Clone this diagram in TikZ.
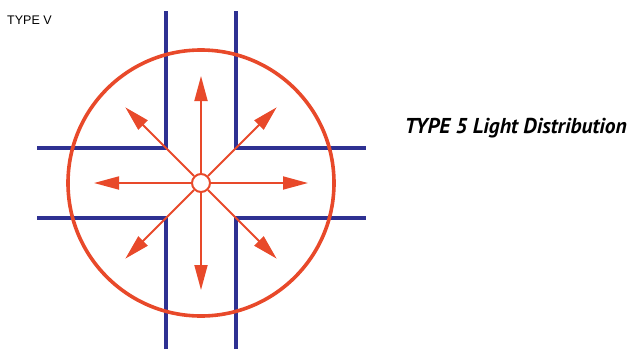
\documentclass[tikz,border=0pt]{standalone}
\usepackage{fontspec}
\setmainfont{Liberation Sans}
\newfontfamily\titlefont{PT Sans}
\usetikzlibrary{arrows.meta, positioning, calc}

\definecolor{lampred}{HTML}{E8492A}
\definecolor{streetblue}{HTML}{2E3192}

\begin{document}
\begin{tikzpicture}[x=1pt, y=-1pt,
	street/.style={draw=streetblue, line width=3.6pt},
	ray/.style={draw=lampred, line width=1.8pt, -{Triangle[length=25pt, width=13pt]}}]
	\useasboundingbox (0,0) rectangle (629,349);
	% Beschriftungen
	\node[anchor=west, inner sep=0pt, font=\fontsize{12.5}{14}\selectfont] (typ) at (7,20) {TYPE V};
	\node[anchor=east, inner sep=0pt, font=\titlefont\bfseries\itshape\fontsize{21.5}{24}\selectfont] (titel) at (627,128) {TYPE 5 Light Distribution};
	% Strassen (vier Ecken)
	\draw[street] (166,11) -- (166,148) -- (37,148);
	\draw[street] (236,11) -- (236,148) -- (366,148);
	\draw[street] (166,349) -- (166,218) -- (37,218);
	\draw[street] (236,349) -- (236,218) -- (366,218);
	% Lichtkegel
	\node[draw=lampred, line width=3.6pt, circle, minimum size=266pt, inner sep=0pt] (kreis) at (201,183) {};
	\node[draw=lampred, line width=2pt, fill=white, circle, minimum size=18pt, inner sep=0pt] (lampe) at (201,183) {};
	% Strahlen
	\foreach \w/\n in {0/o, 45/no, 90/n, 135/nw, 180/w, 225/sw, 270/s, 315/so}
		\coordinate (\n) at ($(lampe)+(\w:107)$);
	\foreach \n in {o, no, n, nw, w, sw, s, so}
		\draw[ray] (lampe) -- (\n);
\end{tikzpicture}
\end{document}
